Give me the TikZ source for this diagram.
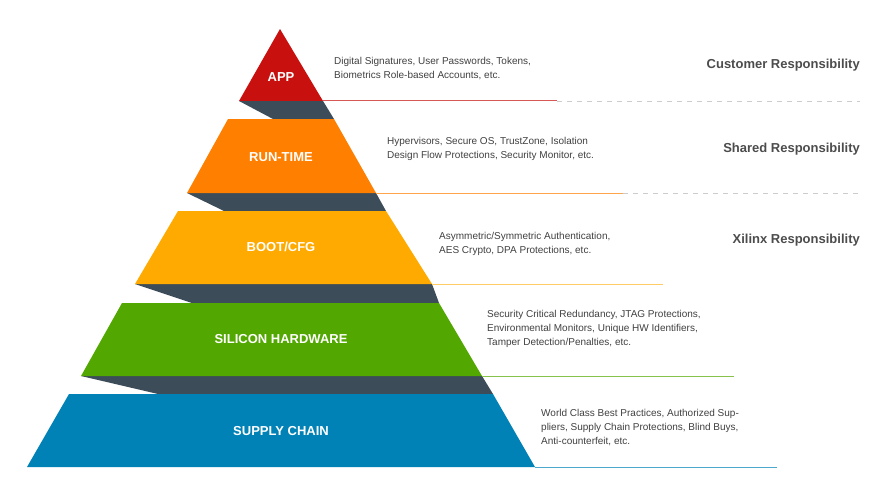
\documentclass[tikz,border=0pt]{standalone}
\usepackage{fontspec}
\setmainfont{Liberation Sans}
\definecolor{appred}{HTML}{C8100E}
\definecolor{rtorange}{HTML}{FF7F00}
\definecolor{bootyellow}{HTML}{FFAA00}
\definecolor{siligreen}{HTML}{52A800}
\definecolor{supblue}{HTML}{0082B6}
\definecolor{shadow}{HTML}{3C4C58}
\begin{document}
\begin{tikzpicture}[x=1pt, y=-1pt,
        layer_label/.style={font=\fontsize{13}{15}\selectfont\bfseries, text=white},
        desc/.style={font=\fontsize{10}{14}\selectfont, text=black!75, anchor=west, align=left, inner sep=0pt},
        resp/.style={font=\fontsize{13}{15}\selectfont\bfseries, text=black!70, anchor=east, inner sep=0pt},
        sep_line/.style={line width=1pt},
        dash_line/.style={black!20, line width=0.8pt, dash pattern=on 5pt off 5pt}
    ]
    \useasboundingbox (0,0) rectangle (890,500);

    % Ombre tra i livelli
    \fill[shadow] (239,101) -- (323,101) -- (334,119) -- (273,119) -- cycle;
    \fill[shadow] (187,193) -- (376,193) -- (386,211) -- (224,211) -- cycle;
    \fill[shadow] (135,284) -- (432,284) -- (439,303) -- (192,303) -- cycle;
    \fill[shadow] (81,376) -- (482,376) -- (493,394) -- (158,394) -- cycle;

    % Livelli della piramide
    \fill[appred] (280,29) -- (323,101) -- (239,101) -- cycle;
    \fill[rtorange] (228,119) -- (334,119) -- (376,193) -- (187,193) -- cycle;
    \fill[bootyellow] (178,211) -- (386,211) -- (432,284) -- (135,284) -- cycle;
    \fill[siligreen] (122,303) -- (439,303) -- (482,376) -- (81,376) -- cycle;
    \fill[supblue] (69,394) -- (493,394) -- (535,467) -- (27,467) -- cycle;

    % Etichette
    \node[layer_label] (app) at (281,77) {APP};
    \node[layer_label] (runtime) at (281,157) {RUN-TIME};
    \node[layer_label] (boot) at (281,247) {BOOT/CFG};
    \node[layer_label] (silicon) at (281,339) {SILICON HARDWARE};
    \node[layer_label] (supply) at (281,431) {SUPPLY CHAIN};

    % Linee di separazione
    \coordinate (appL) at (323,101);
    \coordinate (appM) at (557,101);
    \coordinate (appR) at (860,101);
    \draw[sep_line, appred!70] (appL) -- (appM);
    \draw[dash_line] (appM) -- (appR);
    \coordinate (rtL) at (376,193);
    \coordinate (rtM) at (623,193);
    \coordinate (rtR) at (860,193);
    \draw[sep_line, rtorange!70] (rtL) -- (rtM);
    \draw[dash_line] (rtM) -- (rtR);
    \coordinate (bootL) at (432,284);
    \coordinate (bootR) at (663,284);
    \draw[sep_line, bootyellow!60] (bootL) -- (bootR);
    \coordinate (siliL) at (482,376);
    \coordinate (siliR) at (734,376);
    \draw[sep_line, siligreen!70] (siliL) -- (siliR);
    \coordinate (supL) at (535,467);
    \coordinate (supR) at (777,467);
    \draw[sep_line, supblue!70] (supL) -- (supR);

    % Descrizioni
    \node[desc] (appdesc) at (334,69) {Digital Signatures, User Passwords, Tokens,\\Biometrics Role-based Accounts, etc.};
    \node[desc] (rtdesc) at (387,149) {Hypervisors, Secure OS, TrustZone, Isolation\\Design Flow Protections, Security Monitor, etc.};
    \node[desc] (bootdesc) at (439,244) {Asymmetric/Symmetric Authentication,\\AES Crypto, DPA Protections, etc.};
    \node[desc] (silidesc) at (487,329) {Security Critical Redundancy, JTAG Protections,\\Environmental Monitors, Unique HW Identifiers,\\Tamper Detection/Penalties, etc.};
    \node[desc] (supdesc) at (541,428) {World Class Best Practices, Authorized Sup-\\pliers, Supply Chain Protections, Blind Buys,\\Anti-counterfeit, etc.};

    % Responsabilità
    \node[resp] (customer) at (860,65) {Customer Responsibility};
    \node[resp] (shared) at (860,149) {Shared Responsibility};
    \node[resp] (xilinx) at (860,240) {Xilinx Responsibility};
\end{tikzpicture}
\end{document}
